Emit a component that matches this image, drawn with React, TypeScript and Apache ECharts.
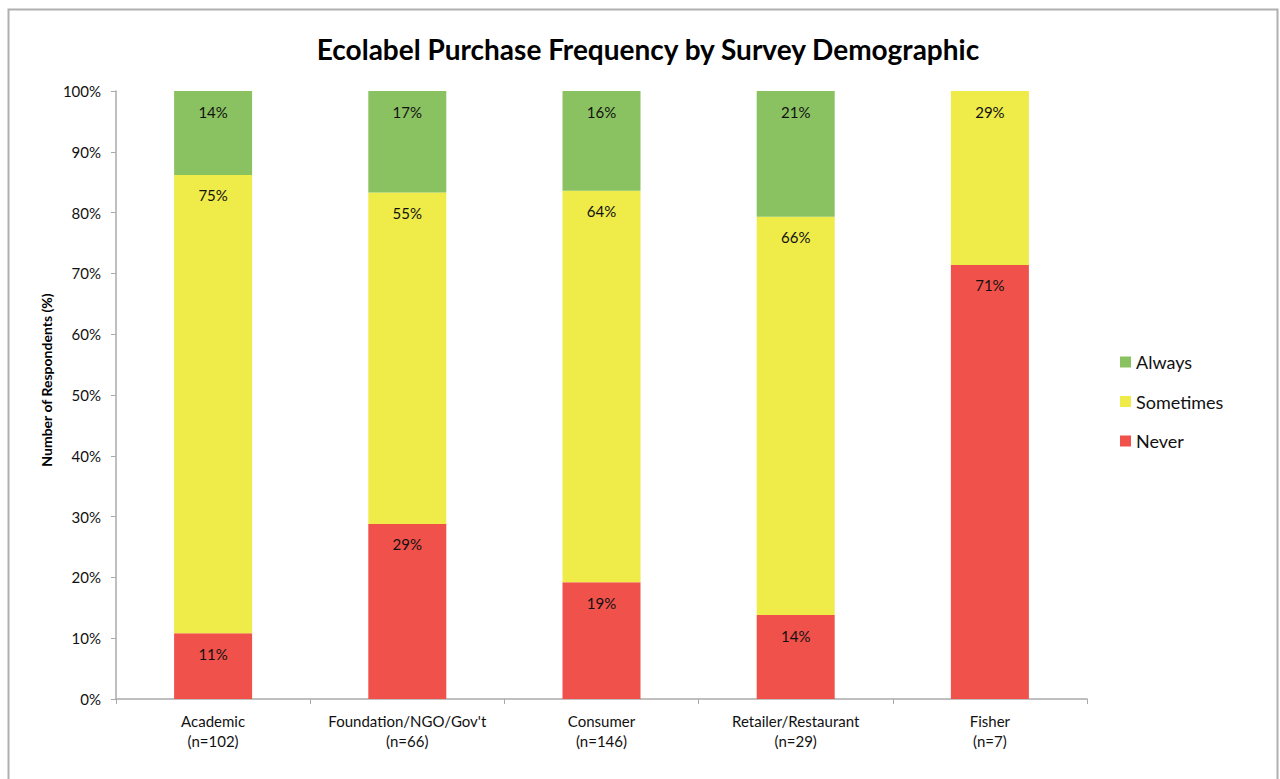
import React, { useEffect, useRef } from "react";
import * as echarts from "echarts";

const categories = [
  "Academic\n(n=102)",
  "Foundation/NGO/Gov't\n(n=66)",
  "Consumer\n(n=146)",
  "Retailer/Restaurant\n(n=29)",
  "Fisher\n(n=7)",
];
const neverVals = [10.8, 28.8, 19.2, 13.8, 71.4];
const sometimesVals = [75.4, 54.5, 64.4, 65.5, 28.6];
const alwaysVals = [13.8, 16.7, 16.4, 20.7, 0];
const yTicks = [0, 10, 20, 30, 40, 50, 60, 70, 80, 90, 100];

const FONT = "Lato, 'Open Sans', sans-serif";

export default function App() {
  const ref = useRef<HTMLDivElement>(null);
  useEffect(() => {
    if (!ref.current) return;
    const chart = echarts.init(ref.current, undefined, { renderer: "svg" });
    const label = {
      show: true,
      position: "insideTop" as const,
      distance: 13,
      color: "#111",
      fontSize: 15,
      fontFamily: FONT,
      formatter: (p: any) => (p.value > 0 ? Math.round(p.value) + "%" : ""),
    };
    const mk = (name: string, data: number[], color: string) => ({
      name,
      type: "bar" as const,
      stack: "total",
      data,
      barWidth: 78,
      itemStyle: { color },
      label,
    });
    chart.setOption({
      animation: false,
      backgroundColor: "#fff",
      textStyle: { fontFamily: FONT },
      title: {
        text: "Ecolabel Purchase Frequency by Survey Demographic",
        left: 643,
        textAlign: "center",
        top: 30,
        textStyle: { fontSize: 28, fontWeight: "bold", color: "#000", fontFamily: FONT },
      },
      graphic: [
        {
          type: "rect",
          shape: { x: 8.5, y: 9.5, width: 1269, height: 790 },
          style: { fill: "none", stroke: "#b0b0b0", lineWidth: 2 },
          silent: true,
        },
        {
          type: "text",
          x: 46,
          y: 380,
          rotation: Math.PI / 2,
          style: {
            text: "Number of Respondents (%)",
            fontSize: 14,
            fontWeight: "bold",
            fill: "#000",
            fontFamily: FONT,
            align: "center",
            verticalAlign: "middle",
          },
          silent: true,
        },
      ],
      grid: { left: 116, right: 193, top: 91, bottom: 80 },
      legend: {
        orient: "vertical",
        left: 1115,
        top: 348,
        itemWidth: 11,
        itemHeight: 11,
        itemGap: 21.5,
        itemTextGap: 5,
        icon: "rect",
        data: ["Always", "Sometimes", "Never"],
        textStyle: { fontSize: 18, lineHeight: 18, color: "#111", fontFamily: FONT },
      },
      xAxis: {
        type: "category",
        data: categories,
        axisLine: { lineStyle: { color: "#aaa", width: 1.5 } },
        axisTick: { show: true, length: 5, lineStyle: { color: "#aaa" } },
        axisLabel: {
          interval: 0,
          color: "#111",
          fontSize: 15,
          lineHeight: 20,
          margin: 12,
          fontFamily: FONT,
        },
      },
      yAxis: {
        type: "value",
        min: 0,
        max: 100,
        interval: 10,
        axisLine: { show: true, lineStyle: { color: "#aaa", width: 1.5 } },
        axisTick: { show: true, length: 5, lineStyle: { color: "#aaa" } },
        splitLine: { show: false },
        axisLabel: {
          color: "#111",
          fontSize: 15,
          margin: 15,
          fontFamily: FONT,
          formatter: (v: number) => (yTicks.includes(v) ? v + "%" : ""),
        },
      },
      series: [
        mk("Never", neverVals, "#f0524b"),
        mk("Sometimes", sometimesVals, "#efeb49"),
        mk("Always", alwaysVals, "#8bc261"),
      ],
    });
    return () => chart.dispose();
  }, []);
  return (
    <div
      ref={ref}
      style={{ position: "fixed", left: 0, top: 0, width: 1280, height: 779 }}
    />
  );
}
